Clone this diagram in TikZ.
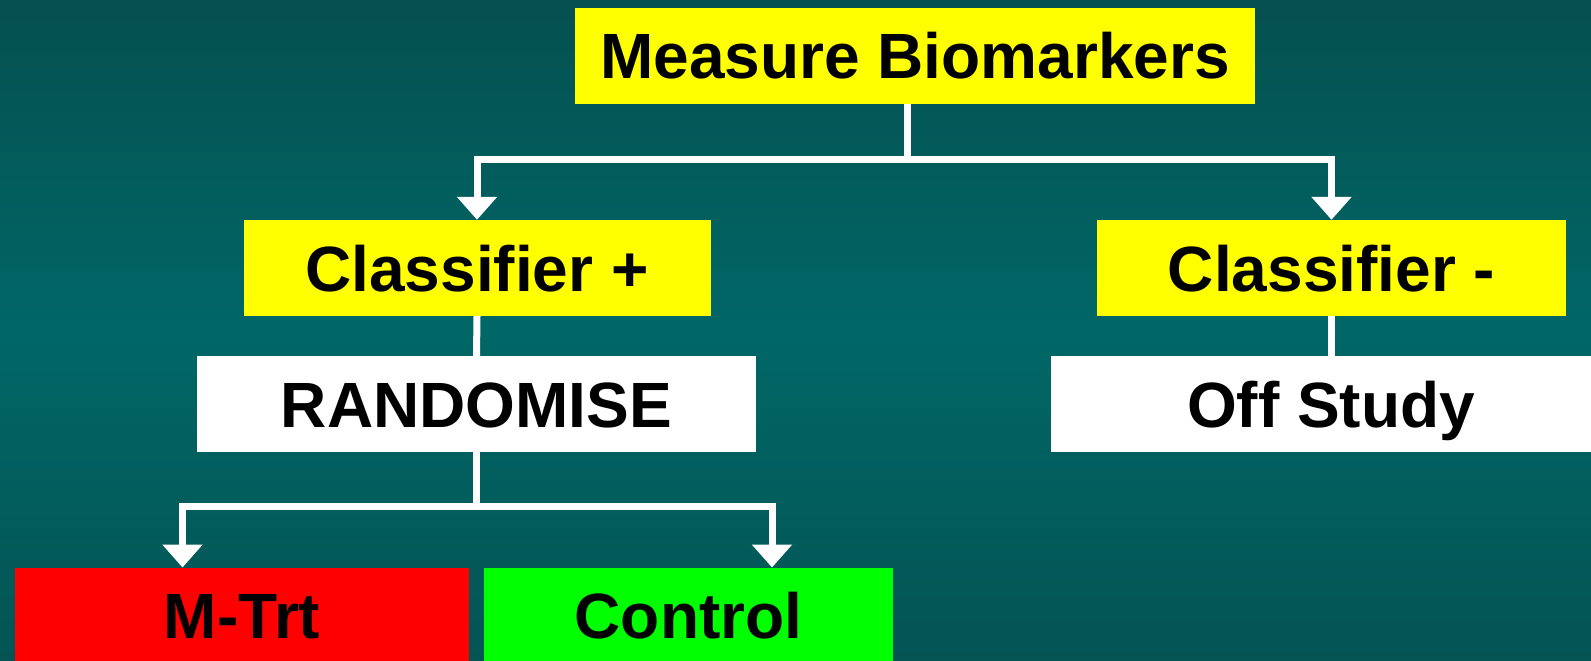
\documentclass[tikz,border=0pt]{standalone}
\usepackage{fontspec}
\setmainfont{Liberation Sans}
\usetikzlibrary{arrows.meta}
\definecolor{bgtop}{RGB}{5,80,80}
\definecolor{bgmid}{RGB}{0,103,102}
\definecolor{bgbot}{RGB}{4,84,84}
\definecolor{boxyellow}{RGB}{255,255,0}
\definecolor{boxred}{RGB}{255,0,0}
\definecolor{boxgreen}{RGB}{0,255,0}
\tikzset{
  box/.style={rectangle, inner sep=0pt, text height=46pt, text depth=0pt,
    font=\fontsize{64pt}{70pt}\selectfont\bfseries, text=black},
  conn/.style={white, line width=7pt},
  arr/.style={conn, -{Triangle[width=39pt,length=23pt]}},
}
\begin{document}
\begin{tikzpicture}[x=1pt,y=-1pt]
\useasboundingbox (0,0) rectangle (1591,661);
\clip (0,0) rectangle (1591,661);
\shade[top color=bgtop, bottom color=bgbot, middle color=bgmid] (0,0) rectangle (1591,661);

\node[box, fill=boxyellow, minimum width=680pt, minimum height=96.5pt] (meas) at (915,56) {Measure Biomarkers};
\node[box, fill=boxyellow, minimum width=467pt, minimum height=96pt] (cplus) at (477,268) {Classifier +};
\node[box, fill=boxyellow, minimum width=469pt, minimum height=96pt] (cminus) at (1331.5,268) {Classifier -};
\node[box, fill=white, minimum width=559pt, minimum height=96pt] (rand) at (476.5,404) {RANDOMISE};
\node[box, fill=white, minimum width=560pt, minimum height=96pt] (off) at (1331,404) {Off Study};
\node[box, fill=boxred, minimum width=454pt, minimum height=96pt] (mtrt) at (242,615.5) {M-Trt};
\node[box, fill=boxgreen, minimum width=409pt, minimum height=96pt] (ctrl) at (688.5,615.5) {Control};

\coordinate (j1) at (907.5,159.5);
\coordinate (j2) at (476.5,506.7);
\coordinate (d1) at (182.5,567.5);
\coordinate (d2) at (772,567.5);

\draw[conn] (meas.south -| j1) -- (j1);
\draw[arr] (j1) -| (cplus.north);
\draw[arr] (j1) -| (cminus.north);
\draw[conn] (cplus.south) -- (rand.north);
\draw[conn] (cminus.south) -- (cminus.south |- off.north);
\draw[conn] (rand.south) -- (j2);
\draw[arr] (j2) -| (d1);
\draw[arr] (j2) -| (d2);
\end{tikzpicture}
\end{document}
